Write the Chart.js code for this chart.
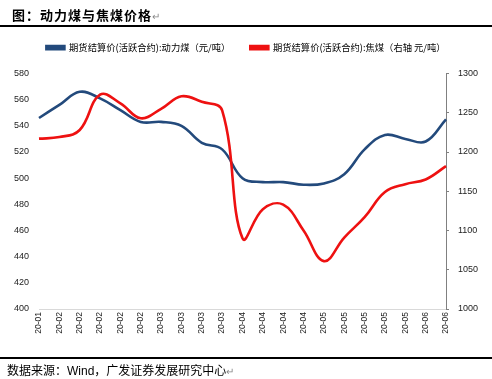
<!DOCTYPE html>
<html>
<head>
<meta charset="utf-8">
<script src="https://cdn.jsdelivr.net/npm/chart.js@4/dist/chart.umd.min.js"></script>
<style>
  html, body { margin: 0; padding: 0; background: #fff; }
  body { width: 492px; height: 379px; position: relative; overflow: hidden; }
  #wrap { position: absolute; left: 0; top: 0; width: 492px; height: 379px; }
  .title { position: absolute; left: 12px; top: 5px; font: bold 13px "Noto Sans CJK SC", sans-serif; color: #000; letter-spacing: 1px; white-space: nowrap; }
  .mark { font-weight: normal; color: #888; font-size: 10px; }
  .rule1 { position: absolute; left: 0; top: 25px; width: 492px; height: 2px; background: #000; }
  .rule2 { position: absolute; left: 0; top: 357px; width: 492px; height: 2px; background: #000; }
  .source { position: absolute; left: 7px; top: 361px; font: 12px "Noto Sans CJK SC", sans-serif; color: #000; white-space: nowrap; }
  .source .w { font-family: "Liberation Sans", Arial, sans-serif; }
</style>
</head>
<body>
<div id="wrap"><canvas id="myChart" width="492" height="379"></canvas></div>
<div class="title">图：动力煤与焦煤价格<span class="mark">↵</span></div>
<div class="rule1"></div>
<div class="rule2"></div>
<div class="source">数据来源：<span class="w">Wind</span>，广发证券发展研究中心<span class="mark">↵</span></div>
<script>
// 横轴标签（周度）
const labels = ['20-01', '20-02', '20-02', '20-02', '20-02', '20-02', '20-03', '20-03', '20-03', '20-03',
  '20-04', '20-04', '20-04', '20-04', '20-05', '20-05', '20-05', '20-05', '20-05', '20-06', '20-06'];

// 期货结算价(活跃合约):动力煤，元/吨，左轴
const thermalCoal = [546, 556, 566, 561, 552, 543, 543, 540, 527, 522,
  500, 497, 497, 495, 496, 503, 522, 533, 530, 528, 545];

// 期货结算价(活跃合约):焦煤，元/吨，右轴
const cokingCoal = [1217, 1219, 1228, 1273, 1262, 1243, 1255, 1271, 1264, 1253,
  1090, 1127, 1133, 1100, 1061, 1091, 1117, 1149, 1159, 1165, 1182];

const seriesNames = ['期货结算价(活跃合约):动力煤（元/吨）', '期货结算价(活跃合约):焦煤（右轴 元/吨）'];

const tickFont = { family: '"Liberation Sans", Arial, sans-serif', size: 9 };

const data = {
  labels: labels,
  datasets: [{
    label: seriesNames[0],
    data: thermalCoal,
    borderColor: '#234a7c',
    backgroundColor: '#234a7c',
    borderWidth: 2.6,
    pointRadius: 0,
    tension: 0.4,
    yAxisID: 'y',
    order: 2
  }, {
    label: seriesNames[1],
    data: cokingCoal,
    borderColor: '#ee1111',
    backgroundColor: '#ee1111',
    borderWidth: 2.6,
    pointRadius: 0,
    tension: 0.4,
    yAxisID: 'y1',
    order: 1
  }]
};

const config = {
  type: 'line',
  data: data,
  options: {
    responsive: false,
    animation: false,
    layout: { padding: { top: 23, bottom: 40, left: 0, right: 0 } },
    plugins: {
      legend: {
        position: 'top',
        labels: {
          boxWidth: 18,
          boxHeight: 3,
          padding: 20,
          color: '#000',
          font: { family: '"Noto Sans CJK SC", sans-serif', size: 9.3 },
          sort: (a, b) => a.datasetIndex - b.datasetIndex
        }
      },
      // 图例与绘图区之间留白
      subtitle: { display: true, text: '', position: 'top', weight: 500, font: { size: 1 }, padding: { top: 10, bottom: 0 } },
      tooltip: { enabled: false }
    },
    scales: {
      x: {
        offset: false,
        grid: { display: false, drawTicks: false },
        border: { display: true, color: '#d9d9d9', width: 1 },
        ticks: { autoSkip: false, minRotation: 90, maxRotation: 90, padding: 3, color: '#222', font: { family: tickFont.family, size: 8.5 } },
        afterFit: (s) => { s.height = 30; }
      },
      y: {
        position: 'left',
        min: 400, max: 580,
        grid: { display: false, drawTicks: false },
        border: { display: false },
        ticks: { stepSize: 20, padding: 10, color: '#222', font: tickFont },
        afterFit: (s) => { s.width = 39; }
      },
      y1: {
        position: 'right',
        min: 1000, max: 1300,
        grid: { display: true, drawOnChartArea: false, drawTicks: true, tickLength: 3, color: '#808080' },
        border: { display: true, color: '#808080', width: 1 },
        ticks: { stepSize: 50, padding: 9, color: '#222', font: tickFont, callback: (v) => String(v) },
        afterFit: (s) => { s.width = 46; }
      }
    }
  }
};

const myChart = new Chart(document.getElementById('myChart'), config);
</script>
</body>
</html>
